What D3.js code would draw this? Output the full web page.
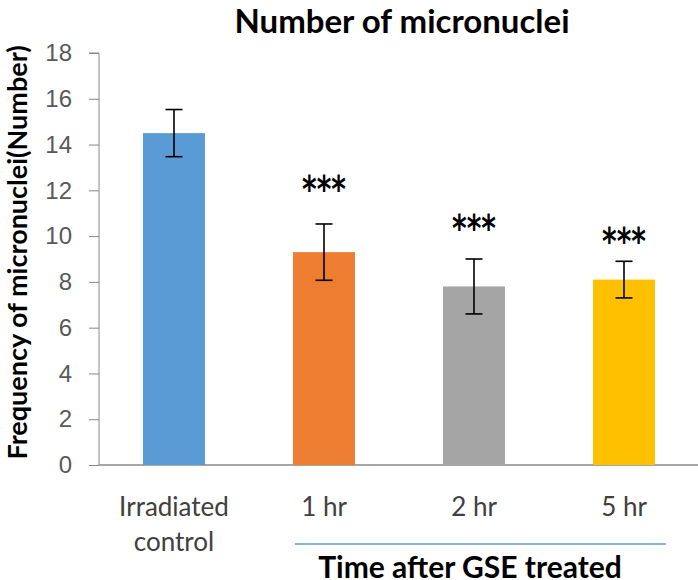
<!DOCTYPE html>
<html>
<head>
<meta charset="utf-8">
<script src="https://cdn.jsdelivr.net/npm/d3@7"></script>
<style>
  body { margin: 0; background: #fff; }
  svg { display: block; font-family: Lato, "Open Sans", sans-serif; }
</style>
</head>
<body>
<div id="chart"></div>
<script>
// datos del gráfico
const categories = ['Irradiated control', '1 hr', '2 hr', '5 hr'];
const means = [14.5, 9.3, 7.8, 8.1];
const errors = [1.03, 1.23, 1.2, 0.8];
const stars = ['', '***', '***', '***'];
const starLevels = [null, 12.5, 10.8, 10.2];
const colors = ['#5b9bd5', '#ed7d31', '#a5a5a5', '#ffc000'];
const yTicks = [0, 2, 4, 6, 8, 10, 12, 14, 16, 18];

const width = 698, height = 580;
const margin = {top: 53, right: -1, bottom: 115, left: 99};

const svg = d3.select('#chart').append('svg')
    .attr('width', width)
    .attr('height', height);

const x = d3.scaleBand()
    .domain(categories)
    .range([margin.left, width - margin.right])
    .paddingInner(0.587)
    .paddingOuter(0.2935);

const y = d3.scaleLinear()
    .domain([0, 18])
    .range([height - margin.bottom, margin.top]);

// eje Y
const yAxis = svg.append('g')
    .attr('transform', `translate(${margin.left},0)`)
    .call(d3.axisLeft(y).tickValues(yTicks).tickSize(10).tickPadding(17));
yAxis.select('.domain').attr('stroke', '#888').attr('d', `M-10,${y(18)}H0V${y(0)}`);
yAxis.selectAll('.tick line').attr('stroke', '#888');
yAxis.selectAll('.tick text').attr('fill', '#595959').style('font-size', '24px');

// eje X (línea base)
svg.append('line')
    .attr('x1', margin.left).attr('x2', width)
    .attr('y1', y(0)).attr('y2', y(0))
    .attr('stroke', '#888').attr('stroke-width', 1.3);

// barras
svg.selectAll('.bar')
    .data(categories)
    .enter().append('rect')
    .attr('class', 'bar')
    .attr('x', d => x(d))
    .attr('width', x.bandwidth())
    .attr('y', (d, i) => y(means[i]))
    .attr('height', (d, i) => y(0) - y(means[i]))
    .attr('fill', (d, i) => colors[i]);

// barras de error
const err = svg.selectAll('.err')
    .data(categories)
    .enter().append('g')
    .attr('class', 'err')
    .attr('stroke', '#000')
    .attr('stroke-width', 1.6);
const cx = d => x(d) + x.bandwidth() / 2;
err.append('line')
    .attr('x1', cx).attr('x2', cx)
    .attr('y1', (d, i) => y(means[i] + errors[i]))
    .attr('y2', (d, i) => y(means[i] - errors[i]));
err.append('line')
    .attr('x1', d => cx(d) - 8.5).attr('x2', d => cx(d) + 8.5)
    .attr('y1', (d, i) => y(means[i] + errors[i]))
    .attr('y2', (d, i) => y(means[i] + errors[i]));
err.append('line')
    .attr('x1', d => cx(d) - 8.5).attr('x2', d => cx(d) + 8.5)
    .attr('y1', (d, i) => y(means[i] - errors[i]))
    .attr('y2', (d, i) => y(means[i] - errors[i]));

// asteriscos (un poco estirados en vertical como en el original)
svg.selectAll('.star')
    .data(categories.filter((d, i) => starLevels[i] !== null))
    .enter().append('g')
    .attr('class', 'star')
    .attr('transform', d => {
        const i = categories.indexOf(d);
        return `translate(${cx(d)},${y(starLevels[i])}) scale(1,1.35)`;
    })
    .append('text')
    .attr('y', 17)
    .attr('text-anchor', 'middle')
    .style('font-family', '"DejaVu Sans", sans-serif')
    .style('font-size', '28px')
    .style('font-weight', 'bold')
    .text(d => stars[categories.indexOf(d)]);

// etiquetas del eje X
svg.selectAll('.xlab')
    .data(categories)
    .enter().append('text')
    .attr('class', 'xlab')
    .attr('text-anchor', 'middle')
    .attr('fill', '#404040')
    .style('font-size', '26px')
    .each(function(d) {
        const words = d === 'Irradiated control' ? ['Irradiated', 'control'] : [d];
        const t = d3.select(this);
        words.forEach((w, k) => {
            t.append('tspan')
                .attr('x', cx(d))
                .attr('y', 516 + k * 35)
                .text(w);
        });
    });

// línea del grupo
svg.append('line')
    .attr('x1', 295).attr('x2', 666)
    .attr('y1', 544).attr('y2', 544)
    .attr('stroke', '#5b9bd5').attr('stroke-width', 1.5);

svg.append('text')
    .attr('x', 470).attr('y', 578)
    .attr('text-anchor', 'middle')
    .style('font-size', '30px').style('font-weight', 'bold')
    .text('Time after GSE treated');

// título
svg.append('text')
    .attr('x', 402).attr('y', 33)
    .attr('text-anchor', 'middle')
    .style('font-size', '33px').style('font-weight', 'bold')
    .text('Number of micronuclei');

// título del eje Y
svg.append('text')
    .attr('transform', `translate(27,${(y(0) + 40) / 2}) rotate(-90)`)
    .attr('text-anchor', 'middle')
    .style('font-size', '27px').style('font-weight', 'bold')
    .text('Frequency of micronuclei(Number)');
</script>
</body>
</html>
